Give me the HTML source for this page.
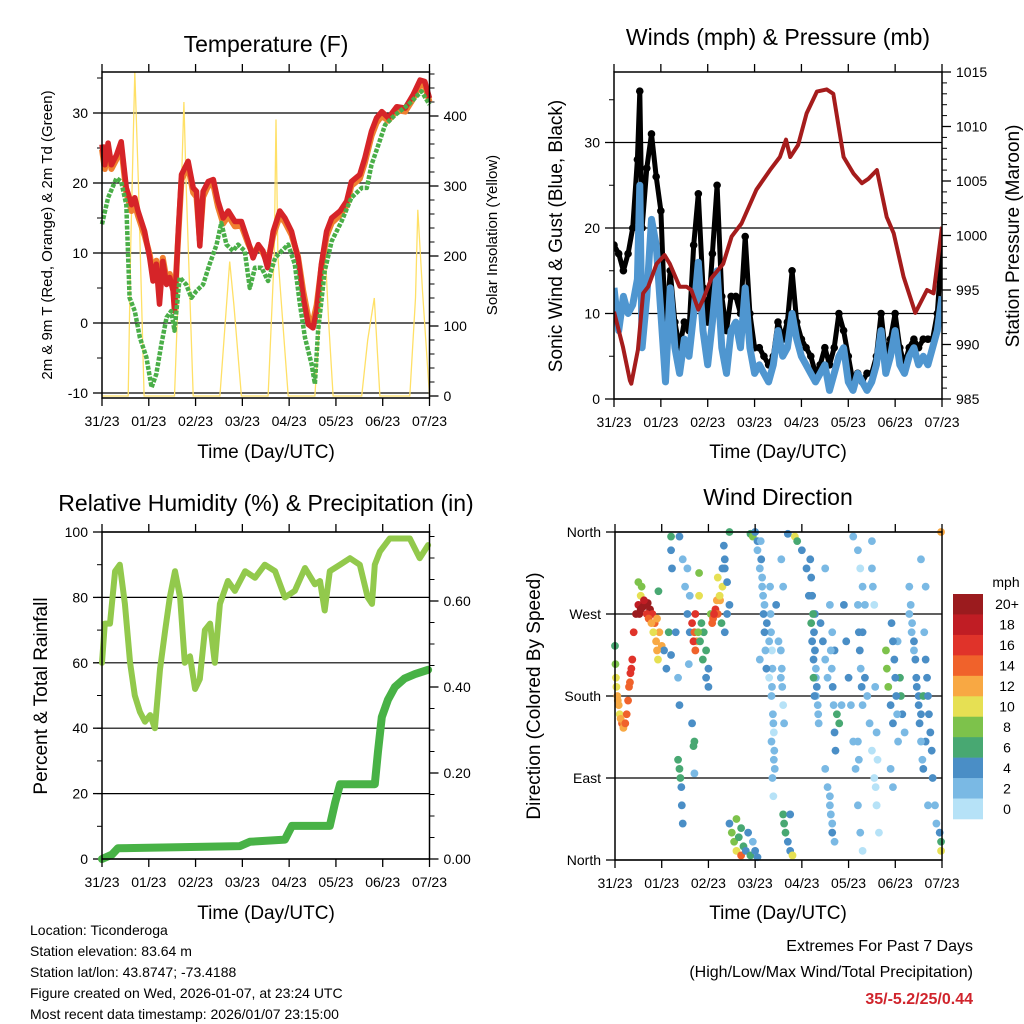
<!DOCTYPE html>
<html><head><meta charset="utf-8"><title>Station Meteogram</title>
<style>
html,body{margin:0;padding:0;background:#fff;}
svg{display:block;font-family:"Liberation Sans",Arial,sans-serif;}
</style></head>
<body>
<svg id="chart" width="1024" height="1024" viewBox="0 0 1024 1024" xmlns="http://www.w3.org/2000/svg">
<rect x="0" y="0" width="1024" height="1024" fill="#fff"/>
<text x="266" y="52" font-size="23" text-anchor="middle">Temperature (F)</text>
<text x="778" y="45" font-size="23" text-anchor="middle">Winds (mph) &amp; Pressure (mb)</text>
<text x="266" y="511" font-size="23" text-anchor="middle">Relative Humidity (%) &amp; Precipitation (in)</text>
<text x="778" y="505" font-size="23" text-anchor="middle">Wind Direction</text>
<text x="266" y="458" font-size="19" text-anchor="middle">Time (Day/UTC)</text>
<text x="778" y="458" font-size="19" text-anchor="middle">Time (Day/UTC)</text>
<text x="266" y="919" font-size="19" text-anchor="middle">Time (Day/UTC)</text>
<text x="778" y="919" font-size="19" text-anchor="middle">Time (Day/UTC)</text>
<text transform="translate(52,235) rotate(-90)" font-size="15" text-anchor="middle">2m &amp; 9m T (Red, Orange) &amp; 2m Td (Green)</text>
<text transform="translate(497,235) rotate(-90)" font-size="15" text-anchor="middle">Solar Insolation (Yellow)</text>
<text transform="translate(562,236) rotate(-90)" font-size="19" text-anchor="middle">Sonic Wind &amp; Gust (Blue, Black)</text>
<text transform="translate(1019,236) rotate(-90)" font-size="19" text-anchor="middle">Station Pressure (Maroon)</text>
<text transform="translate(47,696) rotate(-90)" font-size="19" text-anchor="middle">Percent &amp; Total Rainfall</text>
<text transform="translate(540,696) rotate(-90)" font-size="19" text-anchor="middle">Direction (Colored By Speed)</text>
<g font-size="14">
<text x="30" y="935">Location: Ticonderoga</text>
<text x="30" y="956">Station elevation: 83.64 m</text>
<text x="30" y="977">Station lat/lon: 43.8747; -73.4188</text>
<text x="30" y="998">Figure created on Wed, 2026-01-07, at 23:24 UTC</text>
<text x="30" y="1019">Most recent data timestamp: 2026/01/07 23:15:00</text>
</g>
<text x="973" y="951" font-size="16" text-anchor="end">Extremes For Past 7 Days</text>
<text x="973" y="977" font-size="16" text-anchor="end">(High/Low/Max Wind/Total Precipitation)</text>
<text x="973" y="1004" font-size="16" font-weight="bold" fill="#d0242c" text-anchor="end">35/-5.2/25/0.44</text>
<text x="1006" y="587" font-size="14" text-anchor="middle">mph</text>
</svg>
<script>
// ---------- data ----------
const dayLabels = ["31/23","01/23","02/23","03/23","04/23","05/23","06/23","07/23"];
const tempTimes = [0,0.06,0.13,0.2,0.31,0.41,0.52,0.63,0.7,0.77,0.91,1.02,1.09,1.16,1.23,1.3,1.38,1.45,1.52,1.55,1.63,1.7,1.84,1.95,2.02,2.09,2.16,2.27,2.38,2.48,2.59,2.7,2.84,2.98,3.12,3.23,3.34,3.44,3.54,3.66,3.8,3.91,4.05,4.19,4.3,4.41,4.51,4.59,4.69,4.8,4.91,5.09,5.23,5.33,5.51,5.62,5.76,5.87,5.98,6.12,6.3,6.48,6.65,6.8,6.9,7.0];
const tempRed = [25.5,22.6,25.7,22.6,24.0,25.9,19.3,16.9,17.9,16.0,13.1,9.3,6.0,8.4,2.7,8.8,5.5,6.5,4.6,1.7,13.1,21.2,23.1,19.3,18.8,11.0,18.8,20.2,20.5,17.4,15.0,16.0,14.5,14.5,11.7,9.3,11.2,10.3,7.9,13.1,16.0,15.0,13.1,9.3,3.6,-0.2,-0.7,1.7,8.4,13.1,15.0,16.0,17.4,20.2,21.2,23.6,27.4,29.3,30.2,29.3,30.9,30.7,32.6,34.7,34.5,32.1];
const tempOrange = [24.8,22.0,25.0,22.0,23.4,25.2,18.6,16.0,17.0,15.3,12.5,9.8,7.0,8.9,4.0,9.3,6.2,7.0,5.2,3.0,12.5,20.5,22.4,18.6,18.0,11.8,18.0,19.6,19.8,16.6,14.2,15.3,13.8,13.9,11.4,9.8,11.0,10.0,8.6,12.5,15.3,14.4,12.6,9.5,4.6,0.8,0.2,2.6,8.0,12.4,14.3,15.4,16.8,19.6,20.6,22.9,26.7,28.6,29.6,28.9,30.4,30.2,32.0,34.0,33.9,31.6];
const dewTimes = [0,0.13,0.31,0.41,0.52,0.59,0.7,0.81,0.95,1.06,1.16,1.27,1.38,1.48,1.55,1.66,1.8,1.91,2.02,2.16,2.3,2.45,2.55,2.66,2.8,2.91,3.05,3.16,3.27,3.41,3.55,3.7,3.84,3.98,4.12,4.23,4.34,4.48,4.55,4.62,4.76,4.91,5.12,5.33,5.55,5.66,5.76,5.91,6.05,6.26,6.55,6.83,7.0];
const dewGreen = [14.1,17.9,20.7,20.2,16.9,3.6,1.7,-2.1,-4.9,-9.2,-7.3,-3.0,0.8,1.7,-1.1,6.5,5.5,3.6,4.6,5.5,8.4,11.2,14.3,11.2,10.3,11.2,10.3,5.0,7.9,7.9,6.0,9.3,10.3,11.2,8.4,2.7,-2.1,-5.9,-8.7,-1.1,7.4,11.7,14.5,17.9,19.3,19.3,22.6,25.5,28.3,29.7,31.2,33.1,31.2];
const solarTimes = [0,0.56,0.61,0.70,0.78,0.9,1.55,1.63,1.75,1.80,1.95,2.52,2.65,2.73,2.82,2.98,3.55,3.68,3.72,3.76,3.98,4.55,4.66,4.77,4.85,4.94,5.55,5.68,5.82,5.94,6.58,6.7,6.75,6.85,7.0];
const solarValues = [0,0,200,463,300,0,0,150,420,300,0,0,120,192,130,0,0,200,395,200,0,0,120,206,100,0,0,80,140,0,0,140,266,150,0];

const windTimes = [0,0.1,0.2,0.3,0.4,0.5,0.55,0.6,0.7,0.8,0.9,1.0,1.1,1.2,1.3,1.4,1.5,1.6,1.7,1.8,1.9,2.0,2.1,2.2,2.3,2.4,2.5,2.6,2.7,2.8,2.9,3.0,3.1,3.2,3.3,3.4,3.5,3.6,3.7,3.8,3.9,4.0,4.1,4.2,4.3,4.4,4.5,4.6,4.7,4.8,4.9,5.0,5.1,5.2,5.3,5.4,5.5,5.6,5.7,5.8,5.9,6.0,6.1,6.2,6.3,6.4,6.5,6.6,6.7,6.8,6.9,7.0];
const windSpeed = [13,8,12,10,11,14,25,6,12,21,18,10,2,13,6,3,7,5,10,16,8,4,9,15,6,3,8,9,6,13,6,3,4,3,2,4,8,5,6,10,7,5,4,3,2,3,4,1,3,5,6,2,1,3,2,1,2,4,8,3,5,8,4,3,5,6,4,5,4,6,8,12];
const windGust = [18,17,15,17,20,28,36,20,27,31,26,22,8,15,9,6,9,8,18,24,13,9,17,25,12,8,12,12,10,19,10,6,6,5,4,5,9,7,9,15,9,7,6,5,3,4,6,4,6,10,8,5,2,3,2,3,3,5,10,5,7,10,6,4,6,7,6,7,7,7,10,18];
const pressTimes = [0,0.19,0.34,0.37,0.51,0.62,0.73,0.91,1.08,1.19,1.4,1.55,1.65,1.8,1.9,2.08,2.33,2.51,2.72,3.04,3.33,3.54,3.67,3.76,3.93,4.11,4.33,4.54,4.68,4.9,5.11,5.29,5.43,5.61,5.82,5.97,6.18,6.43,6.68,6.82,7.0];
const pressValues = [993.0,989.8,986.7,986.4,989.5,994.7,995.3,997.4,998.2,997.4,995.3,995.3,995.0,993.2,994.1,996.1,997.4,999.9,1001.1,1004.2,1006.0,1007.2,1008.8,1007.2,1008.3,1011.2,1013.2,1013.4,1013.0,1007.2,1005.7,1004.8,1005.2,1006.0,1001.7,1000.2,996.2,992.9,995.0,994.7,1000.8];

const rhTimes = [0,0.06,0.17,0.28,0.38,0.49,0.6,0.7,0.81,0.92,1.03,1.13,1.24,1.35,1.45,1.56,1.67,1.77,1.88,1.99,2.09,2.2,2.31,2.41,2.52,2.69,2.84,3.06,3.27,3.48,3.7,3.91,4.12,4.34,4.55,4.66,4.76,4.87,5.09,5.3,5.51,5.68,5.77,5.83,5.94,6.15,6.37,6.58,6.79,6.97];
const rhValues = [60,72,72,88,90,78,60,50,45,42,44,40,58,70,80,88,80,60,62,52,55,70,72,60,78,85,82,88,86,90,88,80,82,89,84,85,76,88,90,92,90,80,78,90,94,98,98,98,92,96];
const precipTimes = [0,0.21,0.34,2.95,3.16,3.91,4.06,4.87,4.98,5.09,5.83,5.9,5.98,6.11,6.26,6.47,6.69,6.97];
const precipValues = [0,0.01,0.025,0.03,0.04,0.045,0.077,0.077,0.13,0.174,0.174,0.25,0.33,0.37,0.40,0.42,0.43,0.44];

const dirTimes = [0.0,0.01,0.02,0.05,0.08,0.1,0.15,0.2,0.25,0.28,0.3,0.33,0.37,0.4,
0.45,0.5,0.55,0.57,0.6,0.65,0.7,0.75,0.8,0.85,0.9,0.95,1.0,1.05,1.1,0.93,0.5,1.2,1.15,
1.2,1.2,1.22,1.3,1.35,1.38,1.35,1.38,1.4,1.42,1.43,1.45,1.38,1.45,1.5,1.55,1.6,
1.55,1.6,1.58,1.65,1.7,1.68,1.7,
1.65,1.7,1.72,1.75,1.8,1.8,1.85,1.9,1.95,2.0,2.05,2.1,2.15,2.2,2.25,2.3,2.2,2.3,2.35,2.35,
2.33,2.35,2.4,2.45,2.4,2.45,
2.45,2.5,2.55,2.6,2.65,2.7,2.75,2.8,2.85,2.9,2.95,3.0,3.05,2.6,2.7,
2.9,2.95,3.0,3.05,
3.05,3.1,3.15,3.2,3.25,3.3,3.1,3.3,3.35,3.38,3.35,3.4,3.37,3.45,3.5,3.55,3.6,
3.6,3.62,3.65,3.7,3.75,3.8,3.75,
3.7,3.85,3.9,4.0,4.1,4.15,4.2,4.22,4.25,4.3,4.3,4.28,4.4,4.45,4.5,4.55,4.35,
4.5,4.6,4.65,4.7,4.75,4.8,4.85,4.5,4.55,4.6,4.65,4.7,4.9,4.95,5.0,5.05,5.1,5.15,5.2,5.25,5.3,
5.1,5.2,5.25,5.3,5.35,5.3,5.35,5.4,5.45,5.5,5.55,5.6,5.65,5.5,
5.8,5.82,5.85,5.9,5.95,5.9,5.95,
6.05,6.1,6.12,6.15,6.2,6.3,6.35,6.4,6.45,6.5,6.55,6.6,6.65,6.6,6.7,6.65,6.55,
6.98,6.98,6.98,6.95,
3.32,3.33,3.34,3.36,3.37,3.36,3.39,3.4,3.41,3.42,3.39,
3.12,3.13,3.15,3.17,3.18,3.2,3.22,3.24,
3.55,3.57,3.58,3.6,3.62,3.56,
4.18,4.2,4.22,4.24,4.26,4.28,4.3,4.32,4.34,4.36,4.25,4.27,
4.62,4.64,4.66,4.68,4.7,4.72,4.6,4.62,4.65,
5.2,5.22,5.24,5.26,5.28,5.3,5.2,5.22,
5.5,5.52,5.55,5.57,5.6,5.62,5.58,5.6,
5.92,5.95,5.98,6.0,6.02,6.04,6.06,
6.3,6.33,6.36,6.4,6.43,6.46,6.5,6.52,6.55,6.58,
6.62,6.65,6.68,6.7,6.72,6.75,6.78,6.8,6.85,6.88,
0.52,0.55,0.62,0.68,0.72,0.78,0.82,0.88,0.9,0.92,
1.68,1.72,1.78,1.82,1.88,2.08,2.12,2.18,2.24,2.28,1.95,2.0,
0.03,0.06,0.12,0.18,0.22,0.32,0.35];
const dirValues = [235,215,200,180,170,160,150,150,160,175,190,205,220,250,
270,280,290,300,278,280,282,275,270,260,265,250,235,230,210,295,305,225,250,
355,340,320,250,200,170,110,100,90,80,60,40,355,330,300,270,250,
320,290,215,150,130,125,95,
260,250,270,240,290,315,260,250,230,210,270,265,275,270,285,300,310,320,330,250,
345,320,305,280,270,360,
40,30,20,10,25,5,15,10,30,5,20,10,3,45,35,
358,355,360,350,
340,320,300,280,260,240,220,200,180,160,130,110,90,280,240,200,300,
50,40,30,20,10,5,50,
358,355,350,340,320,290,260,240,220,200,180,270,260,240,220,200,160,
320,280,250,230,160,150,170,100,80,60,40,20,280,240,200,170,130,100,60,30,10,
355,340,320,300,280,250,200,180,150,120,90,60,30,350,
230,210,190,170,150,100,80,
240,200,180,160,140,270,250,230,200,180,160,180,130,100,60,300,330,
360,10,20,30,
300,270,250,230,210,190,150,140,120,100,70,
350,330,310,290,270,250,230,210,
230,210,190,170,150,330,
330,310,290,270,250,230,210,190,170,150,200,180,
230,210,190,170,140,120,70,50,30,
280,250,230,210,190,170,130,110,
320,300,280,190,140,110,80,60,
260,240,220,200,180,160,130,
300,280,260,240,220,190,170,150,130,110,
250,220,200,180,160,140,120,90,60,40,
270,275,285,270,265,260,250,240,230,220,
240,230,250,240,220,260,270,285,290,260,200,190,
190,175,155,145,150,195,210];
const dirSpeeds = [6,8,10,12,12,10,14,12,14,14,14,16,16,16,
20,18,10,8,20,20,20,20,16,14,12,12,12,4,4,6,8,4,6,
6,4,4,4,2,4,6,6,6,4,4,4,4,2,2,4,4,
2,2,2,4,6,6,2,
16,14,16,12,10,8,6,6,6,4,8,14,16,14,12,10,10,4,4,4,
4,4,4,4,4,6,
4,8,8,10,6,14,6,4,4,6,2,4,4,8,6,
6,8,4,4,
2,2,2,2,4,2,2,0,2,2,2,2,2,4,2,2,2,
6,6,6,4,4,10,4,
4,10,6,4,4,4,6,4,4,2,2,4,4,4,2,2,2,
2,2,2,4,6,6,2,2,2,2,2,2,4,4,4,2,2,2,2,2,0,
2,2,0,2,2,4,4,2,2,0,0,0,0,2,
8,8,8,4,4,2,2,
2,6,6,4,2,2,2,2,4,4,4,6,4,4,2,2,2,
12,10,6,4,
2,2,2,0,2,2,2,0,2,2,0,
2,4,2,2,4,4,2,4,
2,2,2,0,2,2,
4,4,4,6,4,4,2,4,2,2,6,4,
2,2,4,2,4,4,2,2,4,
2,4,4,2,4,2,2,2,
2,2,0,2,2,0,0,0,
4,4,4,4,4,2,2,
2,2,2,4,4,4,4,4,2,2,
2,4,4,4,4,4,4,4,2,2,
20,20,18,16,14,12,10,12,12,10,
16,14,8,6,6,14,16,12,10,6,4,4,
10,12,12,12,14,14,16];
const speedBins = ["0","2","4","6","8","10","12","14","16","18","20+"];
const speedColors = ["#b6e2f7","#7ab9e4","#4a8ec6","#48a872","#7dc24b","#e6e053","#f8a843","#f0622b","#e0332a","#c01d24","#9b1b1e"];
const tempTicks = [-10,0,10,20,30];
const solarTicks = [0,100,200,300,400];
const windTicks = [0,10,20,30];
const pressTicks = [985,990,995,1000,1005,1010,1015];
const rhTicks = [0,20,40,60,80,100];
const precipTicks = ["0.00","0.20","0.40","0.60"];
const dirTicks = [0,90,180,270,360];
const dirLabels = ["North","East","South","West","North"];

// ---------- helpers ----------
const NS = "http://www.w3.org/2000/svg";
const svg = document.getElementById("chart");
function mk(tag, attrs, parent){
  const el = document.createElementNS(NS, tag);
  for (const k in attrs) el.setAttribute(k, attrs[k]);
  (parent || svg).appendChild(el);
  return el;
}
function nm(el, name){
  
  
}
function pathFrom(xs, ys){
  let d = "";
  for (let i = 0; i < xs.length; i++) d += (i ? "L" : "M") + xs[i].toFixed(1) + "," + ys[i].toFixed(1);
  return d;
}

const panels = {
  temp:  {L:102, R:429.5, T:72, B:398},
  wind:  {L:614, R:942, T:72, B:399},
  rh:    {L:102, R:429.5, T:532, B:859},
  dir:   {L:615, R:942, T:532, B:860}
};
function xScale(p){ return d => p.L + d * (p.R - p.L) / 7; }

const xT = xScale(panels.temp), xW = xScale(panels.wind), xR = xScale(panels.rh), xD = xScale(panels.dir);
const yT = v => 323 - 7 * v;
const yS = v => 396 - 0.7 * v;
const yW = v => 399 - 8.55 * v;
const yP = v => 399 - (v - 985) * 10.9;
const yRH = v => 859 - 3.27 * v;
const yPr = v => 859 - v * 430;
const yD = v => 860 - v * 328 / 360;

function xAxis(p, xs, name){
  const g = mk("g", {});
  nm(g, name);
  for (let i = 0; i < dayLabels.length; i++){
    const x = xs(i);
    const t1 = mk("line", {x1:x, x2:x, y1:p.B, y2:p.B + 8, stroke:"#000", "stroke-width":1.3}, g);
    nm(t1, 'x-tick');
    const t2 = mk("line", {x1:x, x2:x, y1:p.T, y2:p.T - 8, stroke:"#000", "stroke-width":1.3}, g);
    nm(t2, 'x-tick-top');
    const lb = mk("text", {x:x, y:p.B + 28, "font-size":14, "text-anchor":"middle"}, g);
    lb.textContent = dayLabels[i];
    nm(lb, 'x-tick-label');
  }
}
function yAxisLeft(p, ticks, ys, labels, name, grid, minorStep){
  const g = mk("g", {});
  nm(g, name);
  if (minorStep){
    for (let v = minorStep.from; v <= minorStep.to + 1e-9; v += minorStep.step){
      const y = ys(v);
      if (y < p.T - 0.5 || y > p.B + 0.5) continue;
      const m = mk("line", {x1:p.L - 5, x2:p.L, y1:y, y2:y, stroke:"#000", "stroke-width":1}, g);
      nm(m, 'y-minor-tick');
    }
  }
  ticks.forEach((v, i) => {
    const y = ys(v);
    if (grid){
      const gl = mk("line", {x1:p.L, x2:p.R, y1:y, y2:y, stroke:"#000", "stroke-width":1.2}, g);
      nm(gl, 'gridline');
    }
    const t = mk("line", {x1:p.L - 9, x2:p.L, y1:y, y2:y, stroke:"#000", "stroke-width":1.3}, g);
    nm(t, 'y-tick');
    const lb = mk("text", {x:p.L - 14, y:y + 5, "font-size":14, "text-anchor":"end"}, g);
    lb.textContent = labels ? labels[i] : v;
    nm(lb, 'y-tick-label');
  });
}
function yAxisRight(p, ticks, ys, labels, name, minorStep){
  const g = mk("g", {});
  nm(g, name);
  if (minorStep){
    for (let v = minorStep.from; v <= minorStep.to + 1e-9; v += minorStep.step){
      const y = ys(v);
      if (y < p.T - 0.5 || y > p.B + 0.5) continue;
      const m = mk("line", {x1:p.R, x2:p.R + 5, y1:y, y2:y, stroke:"#000", "stroke-width":1}, g);
      nm(m, 'y-right-minor-tick');
    }
  }
  ticks.forEach((v, i) => {
    const y = ys(v);
    const t = mk("line", {x1:p.R, x2:p.R + 9, y1:y, y2:y, stroke:"#000", "stroke-width":1.3}, g);
    nm(t, 'y-right-tick');
    const lb = mk("text", {x:p.R + 14, y:y + 5, "font-size":14, "text-anchor":"start"}, g);
    lb.textContent = labels ? labels[i] : v;
    nm(lb, 'y-right-tick-label');
  });
}
function frame(p, name){
  const r = mk("rect", {x:p.L, y:p.T, width:p.R - p.L, height:p.B - p.T, fill:"none", stroke:"#000", "stroke-width":1.5});
  nm(r, name);
}

// ---------- panel 1: temperature ----------
(function(){
  const p = panels.temp;
  yAxisLeft(p, tempTicks, yT, null, 'temperature-y-axis', true, {from:-10, to:35, step:5});
  yAxisRight(p, solarTicks, yS, null, 'solar-y-axis', {from:0, to:460, step:20});
  const sol = mk("path", {d: pathFrom(solarTimes.map(xT), solarValues.map(yS)), fill:"none", stroke:"#ffe066", "stroke-width":1.3});
  nm(sol, 'solar-insolation-line');
  const org = mk("path", {d: pathFrom(tempTimes.map(xT), tempOrange.map(yT)), fill:"none", stroke:"#f08030", "stroke-width":6, "stroke-linejoin":"round"});
  nm(org, 'temperature-9m-line');
  const red = mk("path", {d: pathFrom(tempTimes.map(xT), tempRed.map(yT)), fill:"none", stroke:"#d62428", "stroke-width":5.5, "stroke-linejoin":"round"});
  nm(red, 'temperature-2m-line');
  const dew = mk("path", {d: pathFrom(dewTimes.map(xT), dewGreen.map(yT)), fill:"none", stroke:"#4aae48", "stroke-width":4.5, "stroke-dasharray":"4 1.5", "stroke-linejoin":"round"});
  nm(dew, 'dewpoint-line');
  frame(p, 'temperature-plot-frame');
  xAxis(p, xT, 'temperature-x-axis');
})();

// ---------- panel 2: winds ----------
(function(){
  const p = panels.wind;
  yAxisLeft(p, windTicks, yW, null, 'wind-y-axis', true, {from:0, to:35, step:5});
  yAxisRight(p, pressTicks, yP, null, 'pressure-y-axis', {from:985, to:1015, step:1});
  const clip = mk("clipPath", {id:"windclip"});
  mk("rect", {x:p.L, y:p.T, width:p.R - p.L, height:p.B - p.T}, clip);
  const g = mk("g", {"clip-path":"url(#windclip)"});
  nm(g, 'wind-series');
  const gl = mk("path", {d: pathFrom(windTimes.map(xW), windGust.map(yW)), fill:"none", stroke:"#000", "stroke-width":5, "stroke-linejoin":"round"}, g);
  nm(gl, 'gust-line');
  for (let i = 0; i < windTimes.length; i++){
    const c = mk("circle", {cx:xW(windTimes[i]), cy:yW(windGust[i]), r:3.8, fill:"#000"}, g);
    nm(c, 'gust-point');
  }
  const wl = mk("path", {d: pathFrom(windTimes.map(xW), windSpeed.map(yW)), fill:"none", stroke:"#4f96d0", "stroke-width":7, "stroke-linejoin":"round"}, g);
  nm(wl, 'wind-speed-line');
  const pl = mk("path", {d: pathFrom(pressTimes.map(xW), pressValues.map(yP)), fill:"none", stroke:"#a51c1c", "stroke-width":4, "stroke-linejoin":"round"}, g);
  nm(pl, 'pressure-line');
  frame(p, 'wind-plot-frame');
  xAxis(p, xW, 'wind-x-axis');
})();

// ---------- panel 3: humidity & precip ----------
(function(){
  const p = panels.rh;
  yAxisLeft(p, rhTicks, yRH, null, 'humidity-y-axis', true, {from:0, to:100, step:10});
  yAxisRight(p, precipTicks.map(Number), yPr, precipTicks, 'precip-y-axis', {from:0, to:0.75, step:0.05});
  const rl = mk("path", {d: pathFrom(rhTimes.map(xR), rhValues.map(yRH)), fill:"none", stroke:"#92c94c", "stroke-width":6, "stroke-linejoin":"round", "stroke-linecap":"round"});
  nm(rl, 'humidity-line');
  const pr = mk("path", {d: pathFrom(precipTimes.map(xR), precipValues.map(yPr)), fill:"none", stroke:"#48b246", "stroke-width":8, "stroke-linejoin":"round", "stroke-linecap":"round"});
  nm(pr, 'precipitation-line');
  frame(p, 'humidity-plot-frame');
  xAxis(p, xR, 'humidity-x-axis');
})();

// ---------- panel 4: wind direction ----------
(function(){
  const p = panels.dir;
  yAxisLeft(p, dirTicks, yD, dirLabels, 'direction-y-axis', true, null);
  for (let i = 0; i < dirTimes.length; i++){
    let bin = Math.min(10, Math.round(dirSpeeds[i] / 2));
    const c = mk("circle", {cx:xD(dirTimes[i]), cy:yD(dirValues[i]), r:3.9, fill:speedColors[bin]});
    nm(c, 'direction-point');
  }
  frame(p, 'direction-plot-frame');
  xAxis(p, xD, 'direction-x-axis');
  // colorbar
  const cb = mk("g", {});
  nm(cb, 'speed-colorbar');
  const h = 225 / speedBins.length;
  for (let i = 0; i < speedBins.length; i++){
    const k = speedBins.length - 1 - i;
    const y = 594 + i * h;
    const r = mk("rect", {x:953, y:y, width:30, height:h + 0.3, fill:speedColors[k]}, cb);
    nm(r, 'colorbar-box');
    const t = mk("text", {x:1007, y:y + h / 2 + 5, "font-size":14, "text-anchor":"middle"}, cb);
    t.textContent = speedBins[k];
    nm(t, 'colorbar-label');
  }
})();
</script>
</body></html>
